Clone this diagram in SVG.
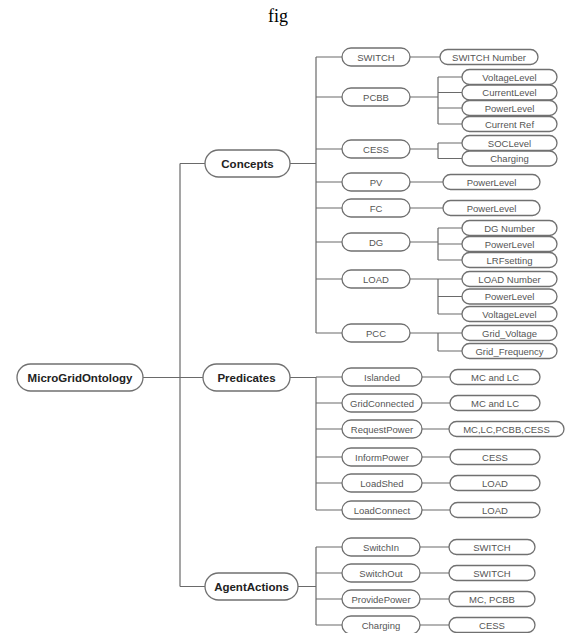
<svg xmlns="http://www.w3.org/2000/svg" width="566" height="633" viewBox="0 0 566 633">
<style>
.n rect{fill:#fff;stroke:#707070;stroke-width:1.3}
.top text{font-family:"Liberation Sans",Arial,sans-serif;font-weight:bold;font-size:11.5px;fill:#222;text-anchor:middle;dominant-baseline:central}
.mid text,.leaf text{font-family:"Liberation Sans",Arial,sans-serif;font-size:9.5px;fill:#555;text-anchor:middle;dominant-baseline:central}
#edges path{fill:none;stroke:#6a6a6a;stroke-width:1.2}
</style>
<rect width="566" height="633" fill="#fff"/>
<text x="278" y="22" font-family="Liberation Serif,serif" font-size="18" text-anchor="middle" fill="#000">fig</text>
<g id="edges">
<path d="M143 377.5H180M180 163.5V586.5M180 163.5H205M180 377.5H203M180 586.5H205"/>
<path d="M290 163.5H316M316 57V333M316 57H342M316 97H342M316 149H342M316 182H342M316 208H342M316 242H342M316 279H342M316 333H342"/>
<path d="M410 57H440M410 97H438M438 77V124M438 77H462M438 92.5H462M438 108H462M438 124H462"/>
<path d="M410 149H438M438 143V158.5M438 143H462M438 158.5H462M410 182H443M410 208H443"/>
<path d="M410 242H438M438 228V260M438 228H462M438 244H462M438 260H462"/>
<path d="M410 279H438M438 279V314M438 279H462M438 296.5H462M438 314H462"/>
<path d="M410 333H438M438 333V351M438 333H462M438 351H462"/>
<path d="M290 377.5H316M316 377V510M316 377H342M316 403H342M316 429H342M316 457H342M316 483H342M316 510H342"/>
<path d="M422 377H450M422 403H450M422 429H449M422 457H450M422 483H450M422 510H450"/>
<path d="M298 586.5H316M316 547V625M316 547H342M316 573H342M316 599H342M316 625H342"/>
<path d="M420 547H449M420 573H449M420 599H449M420 625H449"/>
</g>
<g id="MicroGridOntology" class="n top"><rect x="17" y="364" width="126" height="27" rx="13.5"/><text x="80" y="377.5">MicroGridOntology</text></g>
<g id="Concepts" class="n top"><rect x="205" y="150" width="85" height="27" rx="13.5"/><text x="247.5" y="163.5">Concepts</text></g>
<g id="Predicates" class="n top"><rect x="203" y="364" width="87" height="27" rx="13.5"/><text x="246.5" y="377.5">Predicates</text></g>
<g id="AgentActions" class="n top"><rect x="205" y="573" width="93" height="27" rx="13.5"/><text x="251.5" y="586.5">AgentActions</text></g>

<g id="c-SWITCH" class="n mid"><rect x="342" y="48" width="68" height="18" rx="9"/><text x="376" y="57">SWITCH</text></g>
<g id="c-PCBB" class="n mid"><rect x="342" y="88" width="68" height="18" rx="9"/><text x="376" y="97">PCBB</text></g>
<g id="c-CESS" class="n mid"><rect x="342" y="140" width="68" height="18" rx="9"/><text x="376" y="149">CESS</text></g>
<g id="c-PV" class="n mid"><rect x="342" y="173" width="68" height="18" rx="9"/><text x="376" y="182">PV</text></g>
<g id="c-FC" class="n mid"><rect x="342" y="199" width="68" height="18" rx="9"/><text x="376" y="208">FC</text></g>
<g id="c-DG" class="n mid"><rect x="342" y="233" width="68" height="18" rx="9"/><text x="376" y="242">DG</text></g>
<g id="c-LOAD" class="n mid"><rect x="342" y="270" width="68" height="18" rx="9"/><text x="376" y="279">LOAD</text></g>
<g id="c-PCC" class="n mid"><rect x="342" y="324" width="68" height="18" rx="9"/><text x="376" y="333">PCC</text></g>

<g id="l-SWITCHNumber" class="n leaf"><rect x="440" y="49.5" width="98" height="15" rx="7.5"/><text x="489" y="57">SWITCH Number</text></g>
<g id="l-PCBB-Voltage" class="n leaf"><rect x="462" y="69.5" width="95" height="15" rx="7.5"/><text x="509.5" y="77">VoltageLevel</text></g>
<g id="l-PCBB-Current" class="n leaf"><rect x="462" y="85" width="95" height="15" rx="7.5"/><text x="509.5" y="92.5">CurrentLevel</text></g>
<g id="l-PCBB-Power" class="n leaf"><rect x="462" y="100.5" width="95" height="15" rx="7.5"/><text x="509.5" y="108">PowerLevel</text></g>
<g id="l-PCBB-CurrentRef" class="n leaf"><rect x="462" y="116.5" width="95" height="15" rx="7.5"/><text x="509.5" y="124">Current Ref</text></g>
<g id="l-CESS-SOC" class="n leaf"><rect x="462" y="135.5" width="95" height="15" rx="7.5"/><text x="509.5" y="143">SOCLevel</text></g>
<g id="l-CESS-Charging" class="n leaf"><rect x="462" y="151" width="95" height="15" rx="7.5"/><text x="509.5" y="158.5">Charging</text></g>
<g id="l-PV-Power" class="n leaf"><rect x="443" y="174.5" width="97" height="15" rx="7.5"/><text x="491.5" y="182">PowerLevel</text></g>
<g id="l-FC-Power" class="n leaf"><rect x="443" y="200.5" width="97" height="15" rx="7.5"/><text x="491.5" y="208">PowerLevel</text></g>
<g id="l-DG-Number" class="n leaf"><rect x="462" y="220.5" width="95" height="15" rx="7.5"/><text x="509.5" y="228">DG Number</text></g>
<g id="l-DG-Power" class="n leaf"><rect x="462" y="236.5" width="95" height="15" rx="7.5"/><text x="509.5" y="244">PowerLevel</text></g>
<g id="l-DG-LRF" class="n leaf"><rect x="462" y="252.5" width="95" height="15" rx="7.5"/><text x="509.5" y="260">LRFsetting</text></g>
<g id="l-LOAD-Number" class="n leaf"><rect x="462" y="271.5" width="95" height="15" rx="7.5"/><text x="509.5" y="279">LOAD Number</text></g>
<g id="l-LOAD-Power" class="n leaf"><rect x="462" y="289" width="95" height="15" rx="7.5"/><text x="509.5" y="296.5">PowerLevel</text></g>
<g id="l-LOAD-Voltage" class="n leaf"><rect x="462" y="306.5" width="95" height="15" rx="7.5"/><text x="509.5" y="314">VoltageLevel</text></g>
<g id="l-PCC-Voltage" class="n leaf"><rect x="462" y="325.5" width="95" height="15" rx="7.5"/><text x="509.5" y="333">Grid_Voltage</text></g>
<g id="l-PCC-Frequency" class="n leaf"><rect x="462" y="343.5" width="95" height="15" rx="7.5"/><text x="509.5" y="351">Grid_Frequency</text></g>

<g id="p-Islanded" class="n mid"><rect x="342" y="368" width="80" height="18" rx="9"/><text x="382" y="377">Islanded</text></g>
<g id="p-GridConnected" class="n mid"><rect x="342" y="394" width="80" height="18" rx="9"/><text x="382" y="403">GridConnected</text></g>
<g id="p-RequestPower" class="n mid"><rect x="342" y="420" width="80" height="18" rx="9"/><text x="382" y="429">RequestPower</text></g>
<g id="p-InformPower" class="n mid"><rect x="342" y="448" width="80" height="18" rx="9"/><text x="382" y="457">InformPower</text></g>
<g id="p-LoadShed" class="n mid"><rect x="342" y="474" width="80" height="18" rx="9"/><text x="382" y="483">LoadShed</text></g>
<g id="p-LoadConnect" class="n mid"><rect x="342" y="501" width="80" height="18" rx="9"/><text x="382" y="510">LoadConnect</text></g>

<g id="pl-Islanded" class="n leaf"><rect x="450" y="369.5" width="90" height="15" rx="7.5"/><text x="495" y="377">MC and LC</text></g>
<g id="pl-GridConnected" class="n leaf"><rect x="450" y="395.5" width="90" height="15" rx="7.5"/><text x="495" y="403">MC and LC</text></g>
<g id="pl-RequestPower" class="n leaf"><rect x="449" y="421.5" width="115" height="15" rx="7.5"/><text x="506.5" y="429">MC,LC,PCBB,CESS</text></g>
<g id="pl-InformPower" class="n leaf"><rect x="450" y="449.5" width="90" height="15" rx="7.5"/><text x="495" y="457">CESS</text></g>
<g id="pl-LoadShed" class="n leaf"><rect x="450" y="475.5" width="90" height="15" rx="7.5"/><text x="495" y="483">LOAD</text></g>
<g id="pl-LoadConnect" class="n leaf"><rect x="450" y="502.5" width="90" height="15" rx="7.5"/><text x="495" y="510">LOAD</text></g>

<g id="a-SwitchIn" class="n mid"><rect x="342" y="538" width="78" height="18" rx="9"/><text x="381" y="547">SwitchIn</text></g>
<g id="a-SwitchOut" class="n mid"><rect x="342" y="564" width="78" height="18" rx="9"/><text x="381" y="573">SwitchOut</text></g>
<g id="a-ProvidePower" class="n mid"><rect x="342" y="590" width="78" height="18" rx="9"/><text x="381" y="599">ProvidePower</text></g>
<g id="a-Charging" class="n mid"><rect x="342" y="616" width="78" height="18" rx="9"/><text x="381" y="625">Charging</text></g>

<g id="al-SwitchIn" class="n leaf"><rect x="449" y="539.5" width="86" height="15" rx="7.5"/><text x="492" y="547">SWITCH</text></g>
<g id="al-SwitchOut" class="n leaf"><rect x="449" y="565.5" width="86" height="15" rx="7.5"/><text x="492" y="573">SWITCH</text></g>
<g id="al-ProvidePower" class="n leaf"><rect x="449" y="591.5" width="86" height="15" rx="7.5"/><text x="492" y="599">MC, PCBB</text></g>
<g id="al-Charging" class="n leaf"><rect x="449" y="617.5" width="86" height="15" rx="7.5"/><text x="492" y="625">CESS</text></g>
</svg>
